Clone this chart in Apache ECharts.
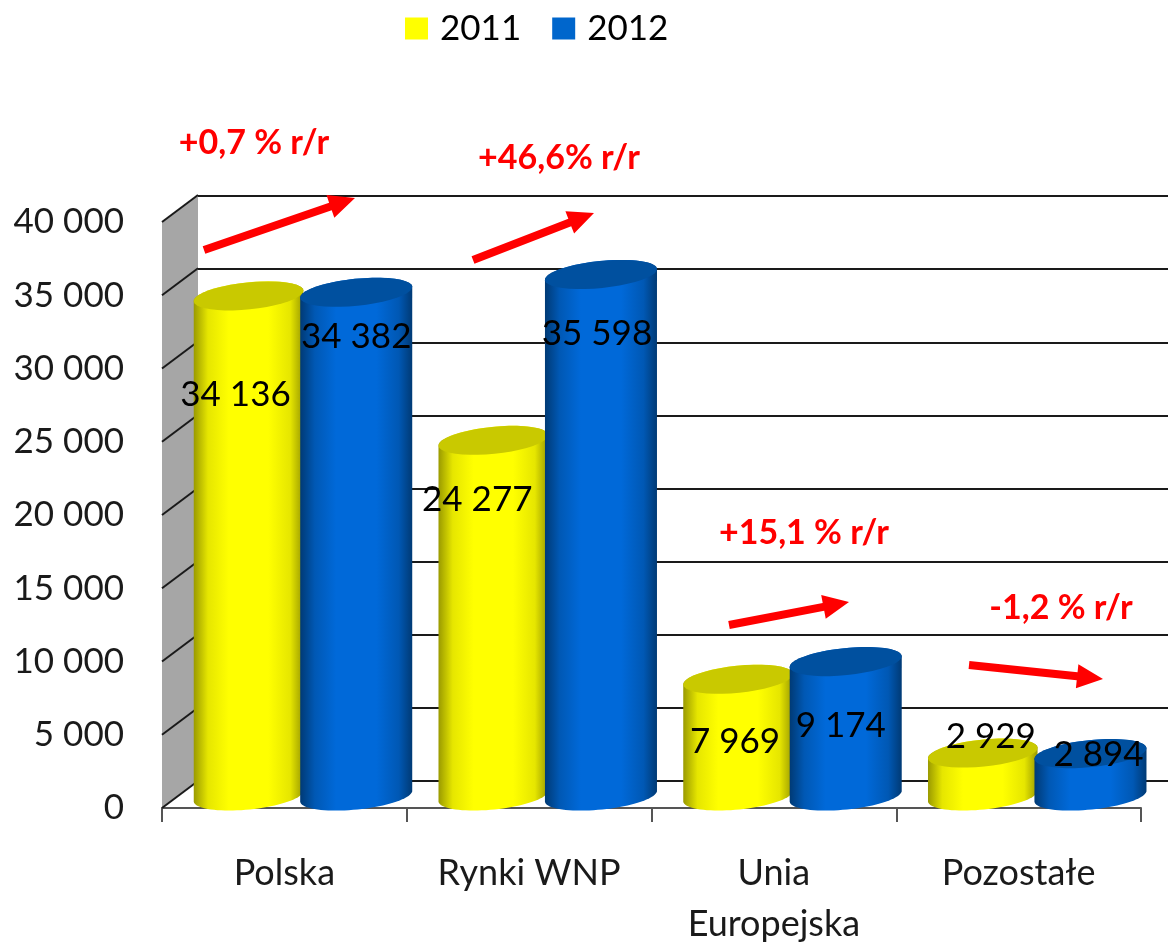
<!DOCTYPE html>
<html>
<head>
<meta charset="utf-8">
<script src="https://cdn.jsdelivr.net/npm/echarts@6/dist/echarts.min.js"></script>
<style>html,body{margin:0;padding:0;background:#fff}#chart{width:1168px;height:943px}</style>
</head>
<body>
<div id="chart"></div>
<script>
var chart = echarts.init(document.getElementById('chart'));

// Dane
var kategorie = ['Polska', 'Rynki WNP', 'Unia\nEuropejska', 'Pozostałe'];
var lata = ['2011', '2012'];
var wartosci2011 = [34136, 24277, 7969, 2929];
var wartosci2012 = [34382, 35598, 9174, 2894];
var podzialkaY = [0, 5000, 10000, 15000, 20000, 25000, 30000, 35000, 40000];

// Adnotacje: tekst i strzalki
var opisy = ['+0,7 % r/r', '+46,6% r/r', '+15,1 % r/r', '-1,2 % r/r'];
var opisyXY = [[254, 143], [559, 158], [804, 533], [1061, 608]];
var strzalki = [[204, 250, 355, 198], [473, 260, 594, 213], [729, 625, 849, 602], [969, 665, 1103, 679]];

// Przesuniecia etykiet wzgledem szczytu slupka (jak w oryginale)
var etykiety2011 = [[-13, 87], [-16, 47], [-3, 50], [8, -28]];
var etykiety2012 = [[0, 32], [-4, 47], [-5, 52], [8, -11]];

var font = 'Lato, sans-serif';
var rozmiar = 35;
var glebX = 36, glebY = -27; // glebokosc "3D"
var tilt = 5.8 * Math.PI / 180;

function fmt(v) {
    return String(v).replace(/\B(?=(\d{3})+$)/g, ' ');
}

function elipsa(cx, cy, rx, ry, od, doK) {
    var pts = [];
    for (var i = 0; i <= 40; i++) {
        var a = od + (doK - od) * i / 40;
        pts.push([
            cx + rx * Math.cos(a) * Math.cos(tilt) + ry * Math.sin(a) * Math.sin(tilt),
            cy - rx * Math.cos(a) * Math.sin(tilt) + ry * Math.sin(a) * Math.cos(tilt)
        ]);
    }
    return pts;
}

function walec(kolory, strona, szer, przesuniecia) {
    return function (params, api) {
        var i = api.value(0), v = api.value(1);
        var band = api.size([1, 0])[0];
        var dol = api.coord([i, 0]);
        var gora = api.coord([i, v]);
        var cx = dol[0] + glebX / 2 + strona * band * 0.22;
        var rx = band * szer, ry = 13.5;
        var yDol = dol[1] - 12, yGora = gora[1] - 12;
        var off = przesuniecia[i];
        var bok = elipsa(cx, yDol, rx, ry, 0, Math.PI).concat(elipsa(cx, yGora, rx, ry, Math.PI, 2 * Math.PI));
        return {
            type: 'group',
            children: [
                {
                    type: 'polygon',
                    shape: { points: bok },
                    style: {
                        fill: new echarts.graphic.LinearGradient(0, 0, 1, 0, [
                            { offset: 0, color: kolory[0] },
                            { offset: 0.13, color: kolory[3] },
                            { offset: 0.32, color: kolory[1] },
                            { offset: 0.68, color: kolory[1] },
                            { offset: 0.88, color: kolory[3] },
                            { offset: 1, color: kolory[0] }
                        ])
                    }
                },
                {
                    type: 'polygon',
                    shape: { points: elipsa(cx, yGora, rx, ry, 0, 2 * Math.PI) },
                    style: { fill: kolory[2] }
                },
                {
                    type: 'text',
                    z2: 100,
                    style: {
                        text: fmt(v),
                        x: cx + off[0],
                        y: gora[1] + off[1],
                        align: 'center',
                        verticalAlign: 'middle',
                        font: rozmiar + 'px ' + font,
                        fill: '#000'
                    }
                }
            ]
        };
    };
}

// Szara sciana z lewej
function sciana(params, api) {
    var d0 = api.coord([0, 0]), d1 = api.coord([0, 40000]);
    var x = params.coordSys.x;
    return {
        type: 'polygon',
        shape: { points: [[x, d1[1]], [x + glebX, d1[1] + glebY], [x + glebX, d0[1] + glebY], [x, d0[1]]] },
        style: { fill: '#a6a6a6' }
    };
}

// Ukosne linie od osi do tylnej sciany
function ukos(params, api) {
    var y = api.coord([0, api.value(1)])[1];
    var x = params.coordSys.x;
    return {
        type: 'line',
        shape: { x1: x, y1: y, x2: x + glebX, y2: y + glebY },
        style: { stroke: '#1a1a1a', lineWidth: 2 }
    };
}

var graficzne = [];
opisy.forEach(function (t, i) {
    graficzne.push({
        type: 'text',
        x: opisyXY[i][0],
        y: opisyXY[i][1],
        style: { text: t, fill: '#ff0000', font: 'bold 34px ' + font, align: 'center', verticalAlign: 'middle' },
        z: 50
    });
});
strzalki.forEach(function (s) {
    var a = Math.atan2(s[3] - s[1], s[2] - s[0]);
    var ux = Math.cos(a), uy = Math.sin(a), nx = -uy, ny = ux;
    var bx = s[2] - ux * 26, by = s[3] - uy * 26;
    graficzne.push({
        type: 'polygon',
        z: 50,
        shape: {
            points: [
                [s[0] + nx * 4, s[1] + ny * 4],
                [bx + nx * 4, by + ny * 4],
                [bx + nx * 12, by + ny * 12],
                [s[2], s[3]],
                [bx - nx * 12, by - ny * 12],
                [bx - nx * 4, by - ny * 4],
                [s[0] - nx * 4, s[1] - ny * 4]
            ]
        },
        style: { fill: '#ff0000' }
    });
});

var option = {
    animation: false,
    backgroundColor: '#fff',
    legend: {
        data: lata,
        left: 400,
        top: 6,
        icon: 'rect',
        itemWidth: 23,
        itemHeight: 22,
        itemGap: 31,
        textStyle: { fontFamily: font, fontSize: rozmiar, color: '#000', padding: [0, 0, 0, 7] }
    },
    grid: [
        { left: 162, right: 27, top: 222, bottom: 135, outerBoundsMode: 'none' },
        { left: 198, right: 0, top: 196, bottom: 162, outerBoundsMode: 'none' } // tylna sciana
    ],
    xAxis: [
        {
            type: 'category',
            gridIndex: 0,
            data: kategorie,
            axisLine: { lineStyle: { color: '#555', width: 2 } },
            axisTick: { show: true, length: 14, lineStyle: { color: '#555', width: 2 } },
            axisLabel: { fontFamily: font, fontSize: 36, color: '#1a1a1a', margin: 40, lineHeight: 51 }
        },
        { type: 'category', gridIndex: 1, data: kategorie, show: false }
    ],
    yAxis: [
        {
            type: 'value',
            gridIndex: 0,
            min: 0,
            max: 40000,
            interval: 5000,
            axisLine: { show: false },
            axisTick: { show: false },
            splitLine: { show: false },
            axisLabel: {
                fontFamily: font,
                fontSize: rozmiar,
                color: '#1a1a1a',
                margin: 38,
                padding: [8, 0, 0, 0],
                formatter: fmt
            }
        },
        {
            type: 'value',
            gridIndex: 1,
            min: 0,
            max: 40000,
            interval: 5000,
            axisLine: { show: false },
            axisTick: { show: false },
            axisLabel: { show: false },
            splitLine: { lineStyle: { color: '#1a1a1a', width: 2 } }
        }
    ],
    series: [
        {
            name: 'sciana',
            type: 'custom',
            renderItem: sciana,
            data: [[0, 0]],
            encode: { x: 0, y: 1 },
            silent: true
        },
        {
            name: 'ukosy',
            type: 'custom',
            renderItem: ukos,
            data: podzialkaY.map(function (v) { return [0, v]; }),
            encode: { x: 0, y: 1 },
            silent: true
        },
        {
            name: '2011',
            type: 'custom',
            itemStyle: { color: '#ffff00' },
            renderItem: walec(['#9a9a00', '#ffff00', '#c9c900', '#e6e600'], -1, 0.225, etykiety2011),
            data: wartosci2011.map(function (v, i) { return [i, v]; }),
            encode: { x: 0, y: 1 }
        },
        {
            name: '2012',
            type: 'custom',
            itemStyle: { color: '#0066cc' },
            renderItem: walec(['#003a75', '#0069d9', '#00509f', '#0058b4'], 1, 0.23, etykiety2012),
            data: wartosci2012.map(function (v, i) { return [i, v]; }),
            encode: { x: 0, y: 1 }
        }
    ],
    graphic: graficzne
};

chart.setOption(option);
</script>
</body>
</html>
